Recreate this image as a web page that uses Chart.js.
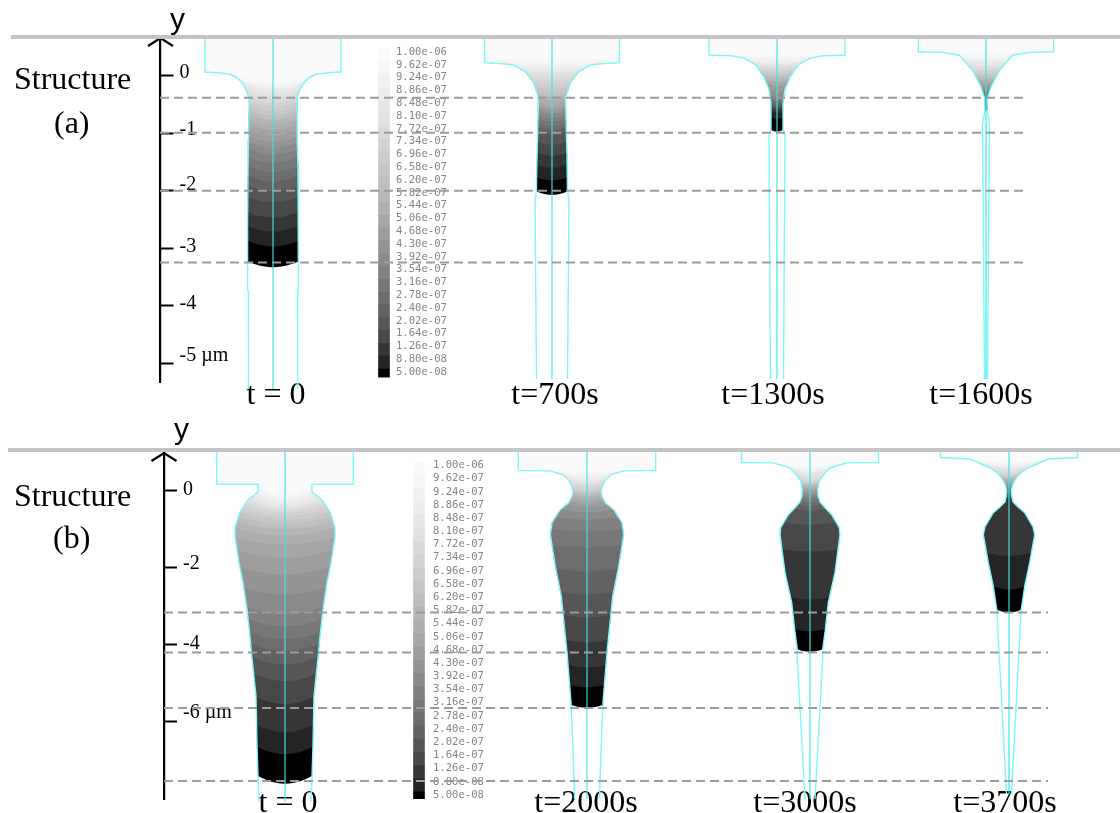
<!DOCTYPE html>
<html>
<head>
<meta charset="utf-8">
<title>Structure (a) and (b)</title>
<script src="https://cdn.jsdelivr.net/npm/chart.js@4/dist/chart.umd.min.js"></script>
<style>
  body { margin: 0; background: #fff; width: 1120px; height: 813px; overflow: hidden; position: relative; }
  canvas { position: absolute; left: 0; }
  #panelA { top: 0; }
  #panelB { top: 410px; }
  .rule { position: absolute; right: 0; height: 4px; background: #c4c4c4; }
  .txt { position: absolute; font-family: "Liberation Serif", serif; font-size: 32px; line-height: 34px; color: #000; white-space: nowrap; }
  .ax { position: absolute; font-family: "Liberation Sans", sans-serif; font-size: 30px; line-height: 30px; color: #000; }
</style>
</head>
<body>
<canvas id="panelA" width="1120" height="413"></canvas>
<canvas id="panelB" width="1120" height="420"></canvas>
<div class="rule" style="left:11px;top:35px"></div>
<div class="rule" style="left:8px;top:448px"></div>
<div class="ax" style="left:170px;top:4px">y</div>
<div class="ax" style="left:174px;top:414px">y</div>
<div class="txt" style="left:14px;top:61px">Structure</div>
<div class="txt" style="left:54px;top:105px">(a)</div>
<div class="txt" style="left:14px;top:478px">Structure</div>
<div class="txt" style="left:53px;top:520px">(b)</div>
<script>
// colour bar levels, top to bottom
const levels = [1.00e-6, 9.62e-7, 9.24e-7, 8.86e-7, 8.48e-7, 8.10e-7, 7.72e-7, 7.34e-7, 6.96e-7, 6.58e-7, 6.20e-7, 5.82e-7, 5.44e-7,
  5.06e-7, 4.68e-7, 4.30e-7, 3.92e-7, 3.54e-7, 3.16e-7, 2.78e-7, 2.40e-7, 2.02e-7, 1.64e-7, 1.26e-7, 8.80e-8, 5.00e-8];
const levelGrays = [250, 246, 241, 236, 230, 224, 218, 211, 204, 197, 190, 182, 174, 166, 157, 148, 139, 129, 119, 109, 98, 86, 72, 54, 36, 0];

// y axes (um)
const ticksA = [0, -1, -2, -3, -4, -5];
const tickLabelsA = ['0', '-1', '-2', '-3', '-4', '-5 \u00b5m'];
const tickLabelDepthA = [0.05, -0.94, -1.90, -2.97, -3.96, -4.88];
const ticksB = [0, -2, -4, -6];
const tickLabelsB = ['0', '-2', '-4', '-6 \u00b5m'];
const tickLabelDepthB = [0.02, -1.90, -3.98, -5.78];

// time labels
const timesA = ['t = 0', 't=700s', 't=1300s', 't=1600s'];
const timeXA = [276, 555, 773, 981];
const timesB = ['t = 0', 't=2000s', 't=3000s', 't=3700s'];
const timeXB = [288, 586, 805, 1005];

// dashed depth markers (um)
const dashDepthA = [-0.38, -0.99, -2.0, -3.25];
const dashDepthB = [-3.17, -4.21, -5.66, -7.56];

// wall outline: [depth um, half width], field part
const wallA0 = [[0.66, 68], [0.07, 68], [0.05, 52], [0.03, 43], [-0.03, 36], [-0.14, 30], [-0.24, 27], [-0.38, 24], [-0.59, 24], [-1.11, 24.5], [-1.63, 25], [-2.67, 25.5], [-3.23, 25.5]];
const wallA1 = [[0.66, 67.5], [0.23, 67.5], [0.21, 48.5], [0.19, 38.5], [0.07, 26.5], [-0.12, 18.5], [-0.38, 13.5], [-0.71, 14], [-1.41, 15], [-1.81, 15.5], [-2.01, 15.5]];
const wallA2 = [[0.66, 68], [0.36, 68], [0.35, 46], [0.31, 33], [0.19, 21], [-0.02, 13], [-0.24, 8], [-0.47, 6], [-0.76, 6], [-0.94, 6]];
const wallA3 = [[0.66, 67.7], [0.42, 67.7], [0.41, 43.6], [0.36, 26.6], [0.10, 13.6], [-0.19, 5], [-0.38, 1.5], [-0.59, 1]];
const wallB0 = [[1.01, 68.3], [0.18, 68.3], [0.17, 27], [-0.03, 27], [-0.23, 37], [-0.55, 45], [-0.96, 50], [-1.19, 50], [-1.87, 46], [-2.39, 42], [-3.09, 38], [-3.79, 35], [-4.21, 33.6], [-5.35, 29], [-6.65, 28], [-7.43, 27]];
const wallB1 = [[1.01, 68.7], [0.53, 68.7], [0.52, 36.7], [0.42, 23.4], [0.26, 18], [0.10, 15], [-0.05, 14], [-0.18, 15.5], [-0.31, 18.4], [-0.49, 26.7], [-0.83, 35], [-1.14, 36.7], [-1.97, 31.7], [-2.75, 25.7], [-3.35, 23.4], [-4.21, 20], [-5.51, 16], [-5.58, 16]];
const wallB2 = [[1.01, 68.5], [0.74, 68.5], [0.73, 36.7], [0.60, 20], [0.44, 14], [0.29, 10], [0.18, 8.5], [0.03, 7.7], [-0.13, 8], [-0.29, 10], [-0.44, 15], [-0.62, 21.7], [-0.96, 29.3], [-1.14, 30], [-2.13, 25], [-2.91, 18.3], [-3.69, 15], [-4.13, 12.7]];
const wallB3 = [[1.01, 68.5], [0.87, 68.5], [0.83, 39], [0.60, 19], [0.47, 12], [0.34, 7.3], [0.18, 3.8], [0.03, 2.3], [-0.13, 2.6], [-0.29, 4], [-0.42, 9], [-0.57, 15.7], [-0.94, 24], [-1.14, 25.7], [-1.87, 20.7], [-2.49, 15.7], [-3.09, 12.3]];

// wall outline below the field
const tailA0 = [[-3.72, 25.3], [-3.75, 24.7], [-5.45, 24.5]];
const tailA1 = [[-2.15, 17], [-5.28, 15.5]];
const tailA2 = [[-1.02, 8], [-5.28, 6.5]];
const tailA3 = [[-0.85, 3.5], [-5.28, 1.5]];
const tailB0 = [[-8.10, 26]];
const tailB1 = [[-6.08, 15], [-7.51, 13], [-8.03, 12.5]];
const tailB2 = [[-4.23, 13], [-8.03, 5]];
const tailB3 = [[-3.17, 12], [-7.90, 2.5]];

// depth of each grey level boundary on the centre line (um)
const contourA0 = [-0.10, -0.16, -0.21, -0.26, -0.33, -0.40, -0.47, -0.54, -0.61, -0.69, -0.76, -0.85, -0.94, -1.04, -1.15, -1.25, -1.37, -1.51, -1.67, -1.84, -2.01, -2.20, -2.47, -2.71, -2.97];
const contourA1 = [0.28, 0.21, 0.16, 0.09, 0.03, -0.03, -0.10, -0.17, -0.24, -0.31, -0.36, -0.43, -0.50, -0.56, -0.61, -0.66, -0.73, -0.80, -0.87, -0.94, -1.02, -1.20, -1.39, -1.60, -1.82];
const contourA2 = [0.35, 0.30, 0.24, 0.21, 0.17, 0.14, 0.10, 0.07, 0.03, 0, -0.05, -0.09, -0.12, -0.17, -0.24, -0.31, -0.38, -0.42, -0.45, -0.49, -0.52, -0.56, -0.59, -0.64, -0.75];
const contourA3 = [0.38, 0.33, 0.28, 0.23, 0.17, 0.12, 0.09, 0.05, 0.02, -0.02, -0.05, -0.09, -0.12, -0.16, -0.19, -0.23, -0.26, -0.28, -0.30, -0.33, -0.35, -0.38, -0.42, -0.47, -0.54];
const contourB0 = [-0.10, -0.18, -0.26, -0.34, -0.42, -0.49, -0.57, -0.65, -0.75, -0.86, -0.99, -1.17, -1.40, -1.74, -2.18, -2.70, -3.22, -3.53, -3.87, -4.18, -4.52, -4.96, -5.56, -6.29, -6.86];
const contourB1 = [0.49, 0.42, 0.34, 0.26, 0.21, 0.16, 0.08, 0.03, -0.03, -0.08, -0.13, -0.18, -0.26, -0.34, -0.42, -0.55, -0.75, -1.06, -1.48, -2.10, -2.70, -3.30, -3.95, -4.60, -5.12];
const contourB2 = [0.65, 0.57, 0.52, 0.47, 0.39, 0.31, 0.26, 0.21, 0.18, 0.16, 0.13, 0.08, 0.05, 0, -0.05, -0.10, -0.16, -0.21, -0.29, -0.39, -0.52, -0.88, -1.58, -2.83, -3.66];
const contourB3 = [0.75, 0.70, 0.65, 0.60, 0.55, 0.49, 0.44, 0.39, 0.36, 0.34, 0.31, 0.26, 0.23, 0.18, 0.16, 0.10, 0.08, 0.05, 0.03, -0.03, -0.08, -0.13, -0.21, -1.69, -2.57];

const CYAN = '#7ff7f7';
const CENTRE = 'rgba(60,230,230,0.72)';

const columnsA = [
  { centre: 273, wall: wallA0, tail: tailA0, contours: contourA0, sag: 0.1 },
  { centre: 552, wall: wallA1, tail: tailA1, contours: contourA1, sag: 0.06 },
  { centre: 777, wall: wallA2, tail: tailA2, contours: contourA2, sag: 0.03 },
  { centre: 986, wall: wallA3, tail: tailA3, contours: contourA3, sag: 0.02 },
];
const columnsB = [
  { centre: 285, wall: wallB0, tail: tailB0, contours: contourB0, sag: 0.2 },
  { centre: 587, wall: wallB1, tail: tailB1, contours: contourB1, sag: 0.07 },
  { centre: 810, wall: wallB2, tail: tailB2, contours: contourB2, sag: 0.06 },
  { centre: 1009, wall: wallB3, tail: tailB3, contours: contourB3, sag: 0.08 },
];

function halfWidthAt(wall, depth) {
  for (let i = 1; i < wall.length; i++) {
    if (depth >= wall[i][0]) {
      const f = (wall[i - 1][0] - depth) / (wall[i - 1][0] - wall[i][0]);
      return wall[i - 1][1] + f * (wall[i][1] - wall[i - 1][1]);
    }
  }
  return wall[wall.length - 1][1];
}

// closed shape: left wall down to the contour, across it, right wall back up
function bandShape(col, centreDepth) {
  const top = col.wall[0][0];
  const bottom = col.wall[col.wall.length - 1][0];
  const edge = Math.max(Math.min(centreDepth + col.sag, top), bottom);
  const hw = halfWidthAt(col.wall, edge);
  const above = col.wall.filter(p => p[0] > edge);
  const pts = above.map(p => ({ x: col.centre - p[1], y: p[0] }));
  for (let k = -6; k <= 6; k++) {
    const u = k / 6;
    pts.push({ x: col.centre + u * hw, y: edge - col.sag * (1 - u * u) });
  }
  for (let i = above.length - 1; i >= 0; i--) {
    pts.push({ x: col.centre + above[i][1], y: above[i][0] });
  }
  return pts;
}

function grey(v) { return 'rgb(' + v + ',' + v + ',' + v + ')'; }

function lineSet(points, color, width, dash) {
  return { data: points, showLine: true, pointRadius: 0, borderColor: color, borderWidth: width, borderDash: dash || [], fill: false, clip: false, xAxisID: 'x', yAxisID: 'y' };
}

function columnLayers(col) {
  const out = [];
  const bottom = col.wall[col.wall.length - 1][0] - col.sag;
  // darkest first, lighter levels on top of it
  out.push({ data: bandShape(col, bottom), showLine: true, pointRadius: 0, borderWidth: 0, fill: 'shape', backgroundColor: grey(levelGrays[25]), xAxisID: 'x', yAxisID: 'y' });
  for (let i = col.contours.length - 1; i >= 0; i--) {
    out.push({ data: bandShape(col, col.contours[i]), showLine: true, pointRadius: 0, borderWidth: 0, fill: 'shape', backgroundColor: grey(levelGrays[i]), xAxisID: 'x', yAxisID: 'y' });
  }
  const full = col.wall.concat(col.tail);
  out.push(lineSet(full.map(p => ({ x: col.centre - p[1], y: p[0] })), CYAN, 1.4));
  out.push(lineSet(full.map(p => ({ x: col.centre + p[1], y: p[0] })), CYAN, 1.4));
  out.push(lineSet([{ x: col.centre, y: full[0][0] }, { x: col.centre, y: full[full.length - 1][0] }], CENTRE, 1.6));
  return out;
}

function colourBar(p) {
  const cells = levels.map((lv, i) => ({ x: p.barX, y: [i === 25 ? lv - 1.5e-8 : levels[i + 1] + 9e-9, lv + 9e-9] }));
  return {
    type: 'bar', data: cells, backgroundColor: levelGrays.map(grey), barThickness: 11, borderWidth: 0,
    xAxisID: 'x', yAxisID: 'yBar',
  };
}

// arrow head on top of the depth axis
const axisArrow = {
  id: 'axisArrow',
  afterDraw(chart) {
    const c = chart.ctx, a = chart.chartArea;
    c.save();
    c.strokeStyle = '#000';
    c.lineWidth = 2.2;
    c.beginPath();
    c.moveTo(a.left - 12.5, a.top + 8);
    c.lineTo(a.left, a.top);
    c.lineTo(a.left + 12.5, a.top + 8);
    c.stroke();
    c.restore();
  },
};

function drawPanel(id, p) {
  const layers = [colourBar(p)];
  p.columns.forEach(col => layers.push(...columnLayers(col)));
  p.dashDepth.forEach(d => layers.push(lineSet([{ x: p.dashFrom, y: d }, { x: p.dashTo, y: d }], '#9c9c9c', 2, [9, 5])));

  new Chart(document.getElementById(id), {
    type: 'scatter',
    data: { datasets: layers.reverse() }, // first dataset is painted last
    options: {
      responsive: false,
      animation: false,
      layout: { padding: { left: p.left, top: p.top, right: 0, bottom: 0 } },
      plugins: { legend: { display: false }, tooltip: { enabled: false } },
      elements: { line: { tension: 0 } },
      scales: {
        x: {
          type: 'linear', position: { y: p.timeDepth }, min: p.left, max: 1120, offset: false,
          border: { display: false },
          grid: { display: false, offset: false, drawTicks: false },
          afterBuildTicks: s => { s.ticks = p.timeX.map(v => ({ value: v })); },
          ticks: {
            autoSkip: false, maxRotation: 0, padding: 0, color: '#000',
            font: { family: 'Liberation Serif', size: 32 },
            callback: (v, i) => p.times[i],
          },
        },
        y: {
          type: 'linear', position: 'left', min: p.yMin, max: p.yMax,
          border: { display: true, color: '#000', width: 2.2 },
          grid: { drawOnChartArea: false, drawTicks: true, tickLength: -13, tickColor: '#000', tickWidth: 2 },
          afterFit: s => { s.width = 0; },
          afterBuildTicks: s => { s.ticks = p.ticks.map(v => ({ value: v })); },
          ticks: { display: false },
        },
        yLab: {
          type: 'linear', position: 'left', min: p.yMin, max: p.yMax,
          border: { display: false },
          grid: { display: false, drawTicks: false },
          afterFit: s => { s.width = 0; },
          afterBuildTicks: s => { s.ticks = p.labelDepth.map(v => ({ value: v })); },
          ticks: {
            mirror: true, padding: p.labelPad, autoSkip: false, color: '#000',
            font: { family: 'Liberation Serif', size: 20 },
            callback: (v, i) => p.labels[i],
          },
        },
        yBar: {
          type: 'linear', position: { x: p.barLabelX }, min: p.barMin, max: p.barMax,
          border: { display: false },
          grid: { display: false, drawTicks: false },
          afterBuildTicks: s => { s.ticks = levels.map(v => ({ value: v })); },
          ticks: {
            autoSkip: false, color: '#858585',
            font: { family: 'DejaVu Sans Mono', size: 10.6 },
            callback: v => v.toExponential(2).replace(/e-(\d)$/, 'e-0$1'),
          },
        },
      },
    },
    plugins: [axisArrow],
  });
}

drawPanel('panelA', {
  columns: columnsA, times: timesA, timeX: timeXA, dashDepth: dashDepthA, dashFrom: 160, dashTo: 1023,
  ticks: ticksA, labels: tickLabelsA, labelDepth: tickLabelDepthA,
  left: 160.5, top: 38, timeDepth: -5.24, labelPad: 19,
  yMin: -5.33, yMax: 0.66, barX: 384, barLabelX: 447, barMin: 2.04e-8, barMax: 1.0414e-6,
});
drawPanel('panelB', {
  columns: columnsB, times: timesB, timeX: timeXB, dashDepth: dashDepthB, dashFrom: 164, dashTo: 1048,
  ticks: ticksB, labels: tickLabelsB, labelDepth: tickLabelDepthB,
  left: 164, top: 43, timeDepth: -7.64, labelPad: 19,
  yMin: -8.03, yMax: 0.987, barX: 419, barLabelX: 484, barMin: 3.85e-8, barMax: 1.0359e-6,
});
</script>
</body>
</html>
